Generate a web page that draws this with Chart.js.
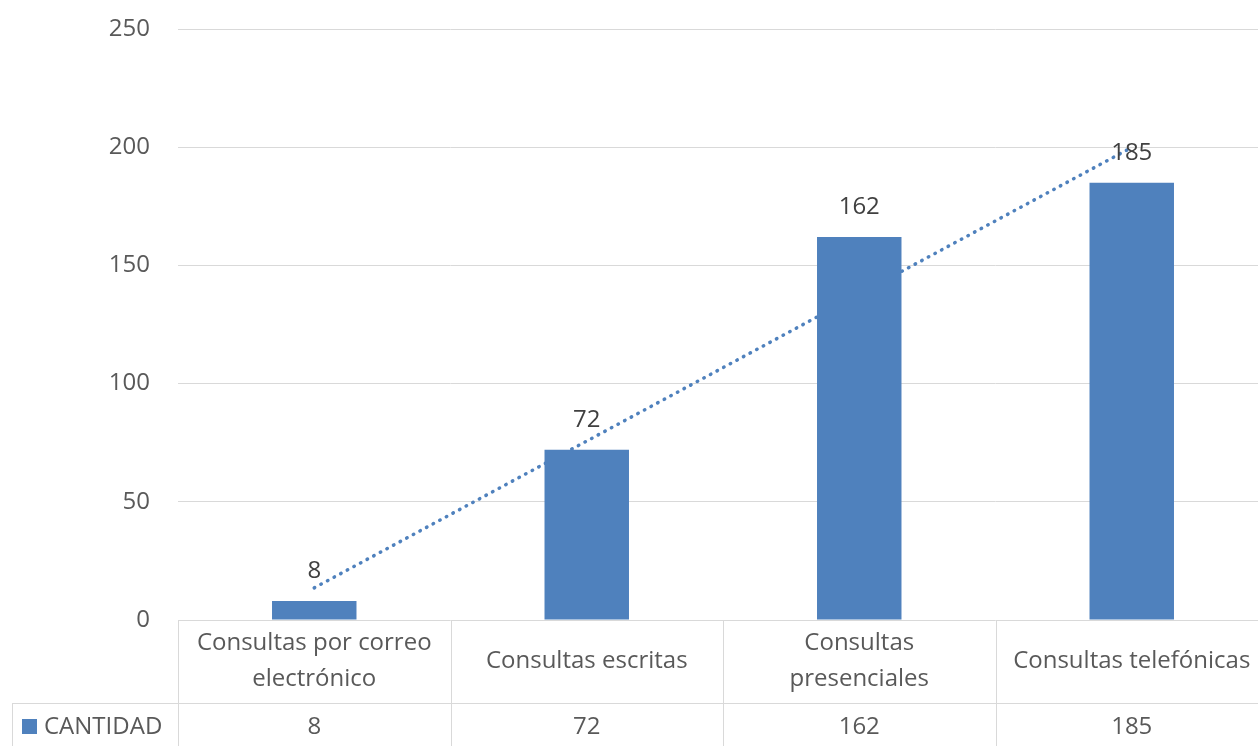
<!DOCTYPE html>
<html>
<head>
<meta charset="utf-8">
<script src="https://cdn.jsdelivr.net/npm/chart.js@4"></script>
<style>
html, body { margin: 0; padding: 0; background: #fff; overflow: hidden; }
#wrap { width: 1258px; height: 746px; overflow: hidden; }
</style>
</head>
<body>
<div id="wrap"><canvas id="grafico" width="1268" height="746"></canvas></div>
<script>
// categorías (con salto de línea como en la tabla de datos)
const categorias = [
  ['Consultas por correo', 'electrónico'],
  ['Consultas escritas'],
  ['Consultas', 'presenciales'],
  ['Consultas telefónicas']
];
const cantidad = [8, 72, 162, 185];
// línea de tendencia punteada
const tendencia = [13.6, 75.7, 137.8, 199.9];
const nombreSerie = 'CANTIDAD';
const ejeMax = 250;
const ejePaso = 50;

const azul = '#4F81BD';
const gris = '#595959';
const linea = '#D9D9D9';
const fuente = '"Open Sans", sans-serif';
const tam = 24;

// etiquetas de valor encima de cada barra
const etiquetas = {
  id: 'etiquetas',
  afterDatasetsDraw(chart) {
    const ctx = chart.ctx;
    const meta = chart.getDatasetMeta(0);
    ctx.save();
    ctx.font = tam + 'px ' + fuente;
    ctx.fillStyle = '#404040';
    ctx.textAlign = 'center';
    ctx.textBaseline = 'middle';
    meta.data.forEach((bar, i) => {
      ctx.fillText(String(cantidad[i]), bar.x, bar.y - 30);
    });
    ctx.restore();
  }
};

// tabla de datos debajo del gráfico (estilo Excel)
const tablaDatos = {
  id: 'tablaDatos',
  afterDraw(chart) {
    const ctx = chart.ctx;
    const x = chart.scales.x;
    const area = chart.chartArea;
    const top = area.bottom;
    const mid = 703;
    const bottom = chart.height;
    const ancho = x.getPixelForValue(1) - x.getPixelForValue(0);
    ctx.save();
    ctx.strokeStyle = linea;
    ctx.lineWidth = 1;
    ctx.beginPath();
    // líneas verticales de columnas
    for (let i = 0; i <= categorias.length; i++) {
      const px = Math.round(x.getPixelForValue(i) - ancho / 2) + 0.5;
      ctx.moveTo(px, top);
      ctx.lineTo(px, bottom);
    }
    ctx.moveTo(12.5, mid);
    ctx.lineTo(12.5, bottom);
    ctx.moveTo(12, mid + 0.5);
    ctx.lineTo(chart.width, mid + 0.5);
    ctx.stroke();

    ctx.font = tam + 'px ' + fuente;
    ctx.fillStyle = gris;
    ctx.textAlign = 'center';
    ctx.textBaseline = 'middle';
    categorias.forEach((lineas, i) => {
      const cx = x.getPixelForValue(i);
      const alto = 36;
      const y0 = 661 - (lineas.length - 1) * alto / 2;
      lineas.forEach((t, j) => ctx.fillText(t, cx, y0 + j * alto));
      ctx.fillText(String(cantidad[i]), cx, 727);
    });
    // clave de leyenda
    ctx.fillStyle = azul;
    ctx.fillRect(22, 719, 15, 15);
    ctx.fillStyle = gris;
    ctx.textAlign = 'left';
    ctx.fillText(nombreSerie, 44, 727);
    ctx.restore();
  }
};

new Chart(document.getElementById('grafico'), {
  data: {
    labels: categorias,
    datasets: [
      {
        type: 'bar',
        label: nombreSerie,
        data: cantidad,
        backgroundColor: azul,
        categoryPercentage: 1,
        barPercentage: 0.31,
        order: 1
      },
      {
        type: 'line',
        label: 'Tendencia',
        data: tendencia,
        borderColor: azul,
        borderWidth: 3.5,
        borderDash: [0.5, 7],
        borderCapStyle: 'round',
        pointRadius: 0,
        fill: false,
        tension: 0,
        order: 2
      }
    ]
  },
  options: {
    responsive: false,
    animation: false,
    devicePixelRatio: 1,
    layout: { padding: { top: 29, bottom: 126, left: 0, right: 0 } },
    plugins: {
      legend: { display: false },
      tooltip: { enabled: false }
    },
    scales: {
      x: { display: false, offset: true },
      y: {
        min: 0,
        max: ejeMax,
        ticks: {
          stepSize: ejePaso,
          padding: 28,
          color: gris,
          font: { family: fuente, size: tam }
        },
        grid: { color: linea, drawTicks: false },
        border: { display: false },
        afterFit(scale) {
          scale.width = 178;
          scale.paddingTop = 0;
          scale.paddingBottom = 0;
        }
      }
    }
  },
  plugins: [etiquetas, tablaDatos]
});
</script>
</body>
</html>
